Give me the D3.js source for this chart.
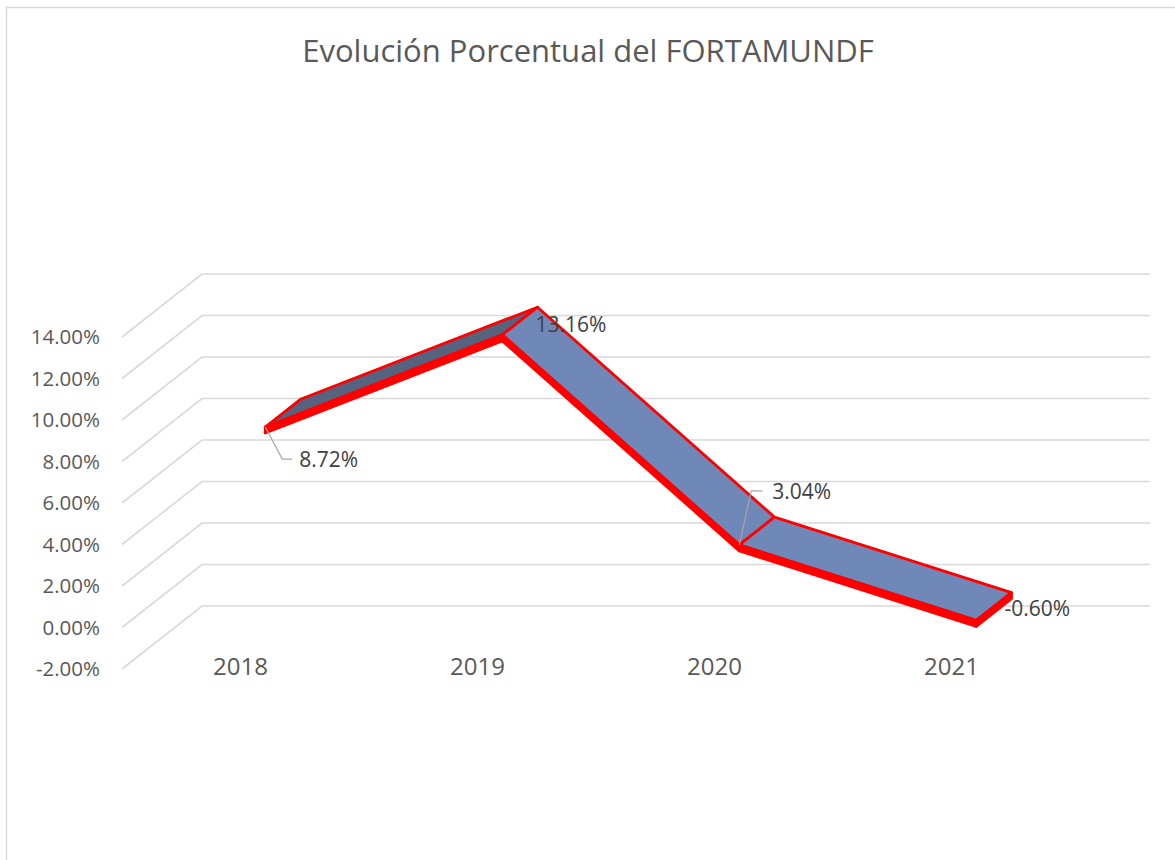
<!DOCTYPE html>
<html lang="es">
<head>
<meta charset="UTF-8">
<title>FORTAMUNDF</title>
<script src="https://cdn.jsdelivr.net/npm/d3@7"></script>
<style>
  body { margin: 0; background: #fff; }
  text { font-family: "Open Sans", sans-serif; }
</style>
</head>
<body>
<script>
// data
var years = ['2018', '2019', '2020', '2021'];
var values = [8.72, 13.16, 3.04, -0.60];
var ticks = [-2, 0, 2, 4, 6, 8, 10, 12, 14];
var labels = ['8.72%', '13.16%', '3.04%', '-0.60%'];

var W = 1175, H = 860;
var depth = {dx: 80, dy: -63};   // shift from front plane to back wall
var ribbon = {t1: 0.31, t2: 0.75, h: 6};

var svg = d3.select('body').append('svg')
  .attr('width', W).attr('height', H);

svg.append('rect')
  .attr('x', 6.5).attr('y', 7.5)
  .attr('width', W + 10).attr('height', H + 10)
  .attr('fill', '#fff').attr('stroke', '#d9d9d9').attr('stroke-width', 1.5);

svg.append('text')
  .attr('x', 588).attr('y', 62)
  .attr('text-anchor', 'middle')
  .attr('font-size', 31)
  .attr('fill', '#595959')
  .text('Evolución Porcentual del FORTAMUNDF');

var x = d3.scaleBand().domain(years).range([122, 1070]);
var y = d3.scaleLinear().domain([-2, 14]).range([669, 337]);

function proj(i, v, t) {
  return [x(years[i]) + x.bandwidth() / 2 + t * depth.dx, y(v) + t * depth.dy];
}

// gridlines: diagonal on the side + horizontal on back wall
var grid = svg.append('g').attr('stroke', '#d9d9d9').attr('stroke-width', 1.6).attr('fill', 'none');
grid.selectAll('path').data(ticks).enter().append('path')
  .attr('d', function (d) {
    var x0 = x.range()[0], x1 = x.range()[1];
    return 'M' + x0 + ',' + y(d) +
      'L' + (x0 + depth.dx) + ',' + (y(d) + depth.dy) +
      'L' + (x1 + depth.dx) + ',' + (y(d) + depth.dy);
  });

// y tick labels
svg.append('g').selectAll('text').data(ticks).enter().append('text')
  .attr('x', 100).attr('y', function (d) { return y(d); })
  .attr('dy', '0.35em')
  .attr('text-anchor', 'end')
  .attr('font-size', 20.5)
  .attr('fill', '#595959')
  .text(function (d) { return d.toFixed(2) + '%'; });

// category labels
svg.append('g').selectAll('text').data(years).enter().append('text')
  .attr('x', function (d) { return x(d) + x.bandwidth() / 2; })
  .attr('y', 667)
  .attr('dy', '0.35em')
  .attr('text-anchor', 'middle')
  .attr('font-size', 24)
  .attr('fill', '#595959')
  .text(function (d) { return d; });

// 3D ribbon
var F = values.map(function (v, i) { return proj(i, v, ribbon.t1); });
var B = values.map(function (v, i) { return proj(i, v, ribbon.t2); });
var segs = d3.range(values.length - 1);

var rib = svg.append('g')
  .attr('stroke', '#ff0000').attr('stroke-linejoin', 'round');

function down(p) { return [p[0], p[1] + ribbon.h]; }

// end caps
rib.append('path')
  .attr('d', d3.line()([F[0], B[0], down(B[0]), down(F[0])]) + 'Z')
  .attr('fill', '#ff0000').attr('stroke-width', 2);

// top faces
rib.selectAll('.top').data(segs).enter().append('path')
  .attr('class', 'top')
  .attr('d', function (i) { return d3.line()([F[i], F[i + 1], B[i + 1], B[i]]) + 'Z'; })
  .attr('fill', function (i) { return values[i + 1] > values[i] ? '#56637f' : '#7088b8'; })
  .attr('stroke-width', 2.8);

var last = values.length - 1;
rib.append('path')
  .attr('d', d3.line()([F[last], B[last], down(B[last]), down(F[last])]) + 'Z')
  .attr('fill', '#ff0000').attr('stroke-width', 2.8);

// front faces
rib.selectAll('.front').data(segs).enter().append('path')
  .attr('class', 'front')
  .attr('d', function (i) { return d3.line()([F[i], F[i + 1], down(F[i + 1]), down(F[i])]) + 'Z'; })
  .attr('fill', '#ff0000').attr('stroke-width', 2.8);

// data labels (offsets from the projected point; leader where Excel drew one)
var labelPos = [
  {anchor: 'F', dx: 34, dy: 33, leader: [[17, 32], [27, 32]]},
  {anchor: 'B', dx: -2, dy: 17},
  {anchor: 'F', dx: 33, dy: -53, leader: [[12, -54], [23, -54]]},
  {anchor: 'B', dx: -7, dy: 16}
];

var lab = svg.append('g');
labels.forEach(function (txt, i) {
  var o = labelPos[i];
  var p = o.anchor === 'F' ? F[i] : B[i];
  if (o.leader) {
    var pts = [p].concat(o.leader.map(function (q) { return [p[0] + q[0], p[1] + q[1]]; }));
    lab.append('path').attr('d', d3.line()(pts))
      .attr('fill', 'none').attr('stroke', '#a6a6a6').attr('stroke-width', 1.2);
  }
  lab.append('text')
    .attr('x', p[0] + o.dx).attr('y', p[1] + o.dy)
    .attr('dy', '0.35em')
    .attr('font-size', 21)
    .attr('fill', '#404040')
    .text(txt);
});
</script>
</body>
</html>
